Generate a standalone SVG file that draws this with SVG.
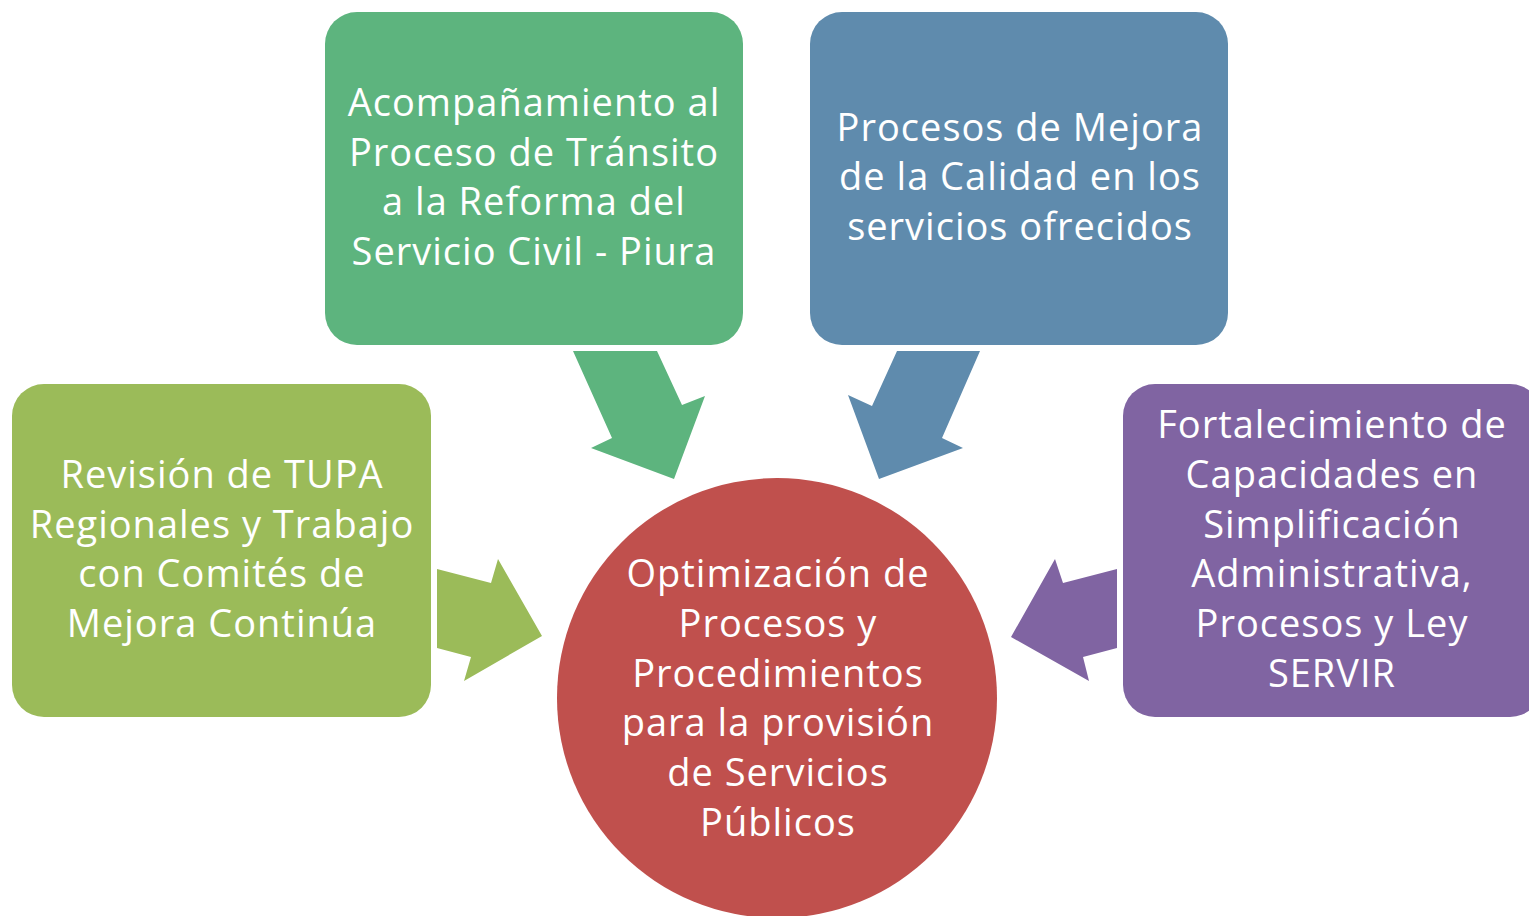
<svg xmlns="http://www.w3.org/2000/svg" width="1529" height="916" viewBox="0 0 1529 916">
<style>
.t{font-family:"Open Sans","Liberation Sans",sans-serif;font-size:38px;letter-spacing:1px;fill:#fff;text-anchor:middle}
</style>
<rect width="1529" height="916" fill="#fff"/>
<g id="connectors">
<polygon fill="#5DB47E" points="573,351 657,351 682,405 705,396 674,479 591,448 612,438"/>
<polygon fill="#5F8BAD" points="897,351 980,351 942,438 963,448 879,479 848,395 872,406"/>
<polygon fill="#9BBB59" points="437,569 491,583 498,559 542,636 464,681 471,657 437,648"/>
<polygon fill="#8064A2" points="1117,569 1063,583 1055,559 1011,637 1089,681 1083,657 1117,648"/>
</g>
<g id="n1">
<rect x="325" y="12" width="418" height="333" rx="32" fill="#5DB47E"/>
<text class="t"><tspan x="534" y="116">Acompañamiento al</tspan><tspan x="534" y="166">Proceso de Tránsito</tspan><tspan x="534" y="215">a la Reforma del</tspan><tspan x="534" y="265">Servicio Civil - Piura</tspan></text>
</g>
<g id="n2">
<rect x="810" y="12" width="418" height="333" rx="32" fill="#5F8BAD"/>
<text class="t"><tspan x="1020" y="141">Procesos de Mejora</tspan><tspan x="1020" y="190">de la Calidad en los</tspan><tspan x="1020" y="240">servicios ofrecidos</tspan></text>
</g>
<g id="n3">
<rect x="12" y="384" width="419" height="333" rx="32" fill="#9BBB59"/>
<text class="t"><tspan x="222" y="488">Revisión de TUPA</tspan><tspan x="222" y="538">Regionales y Trabajo</tspan><tspan x="222" y="587">con Comités de</tspan><tspan x="222" y="637">Mejora Continúa</tspan></text>
</g>
<g id="n4">
<rect x="1123" y="384" width="419" height="333" rx="32" fill="#8064A2"/>
<text class="t"><tspan x="1332" y="438">Fortalecimiento de</tspan><tspan x="1332" y="488">Capacidades en</tspan><tspan x="1332" y="538">Simplificación</tspan><tspan x="1332" y="587">Administrativa,</tspan><tspan x="1332" y="637">Procesos y Ley</tspan><tspan x="1332" y="687">SERVIR</tspan></text>
</g>
<g id="n5">
<circle cx="777" cy="698" r="220" fill="#C0504D"/>
<text class="t"><tspan x="778" y="587">Optimización de</tspan><tspan x="778" y="637">Procesos y</tspan><tspan x="778" y="687">Procedimientos</tspan><tspan x="778" y="736">para la provisión</tspan><tspan x="778" y="786">de Servicios</tspan><tspan x="778" y="836">Públicos</tspan></text>
</g>
</svg>
